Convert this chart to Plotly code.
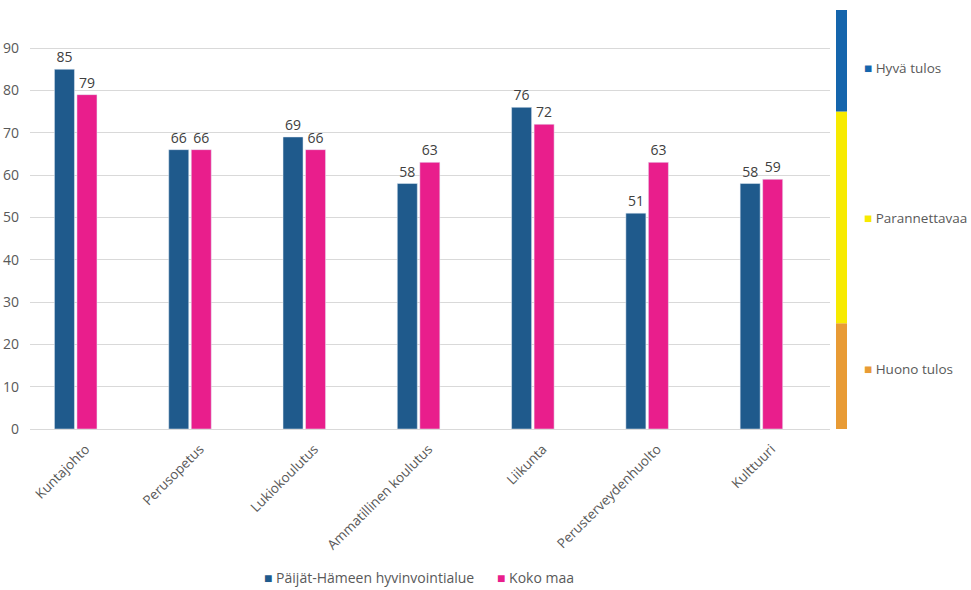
import plotly.graph_objects as go

categories = ["Kuntajohto", "Perusopetus", "Lukiokoulutus", "Ammatillinen koulutus",
              "Liikunta", "Perusterveydenhuolto", "Kulttuuri"]
paijat_hame = [85, 66, 69, 58, 76, 51, 58]
koko_maa = [79, 66, 66, 63, 72, 63, 59]
series_names = ["Päijät-Hämeen hyvinvointialue", "Koko maa"]
series_colors = ["#1F5A8C", "#E91E8C"]

band_labels = ["Huono tulos", "Parannettavaa", "Hyvä tulos"]
band_base = [0, 25, 75]
band_size = [25, 50, 25]
band_colors = ["#E89B35", "#F7EA00", "#1565AC"]

FONT = "Open Sans"
TXT = "#595959"

fig = go.Figure()
for name, vals, col in zip(series_names, [paijat_hame, koko_maa], series_colors):
    fig.add_trace(go.Bar(
        x=categories, y=vals, name=name, marker_color=col,
        text=vals, textposition="outside",
        textfont=dict(size=14, color="#404040", family=FONT), cliponaxis=False,
        showlegend=False, xaxis="x", yaxis="y"))

for lbl, b, s, c in zip(band_labels, band_base, band_size, band_colors):
    fig.add_trace(go.Bar(
        x=["band"], y=[s], base=[b], name=lbl, marker_color=c, marker_line_width=0,
        width=[1], offset=[-0.5], showlegend=False, hoverinfo="skip",
        xaxis="x2", yaxis="y2"))

# right-side labels
label_y = {"Hyvä tulos": 0.8616, "Parannettavaa": 0.5036, "Huono tulos": 0.1432}
for lbl, c in zip(band_labels, band_colors):
    fig.add_annotation(
        x=1.0146, y=label_y[lbl], xref="paper", yref="paper",
        xanchor="left", yanchor="middle", showarrow=False,
        text=f"<span style='color:{c}'>■</span> {lbl}",
        font=dict(size=13.5, color=TXT, family=FONT))

# bottom legend
for name, col, lx in zip(series_names, series_colors, [0.283, 0.567]):
    fig.add_annotation(
        x=lx, y=-0.3556, xref="paper", yref="paper",
        xanchor="left", yanchor="middle", showarrow=False,
        text=f"<span style='color:{col}'>■</span> {name}",
        font=dict(size=14, color=TXT, family=FONT))

fig.update_layout(
    width=971, height=590,
    margin=dict(l=30, r=121, t=10, b=161, autoexpand=False),
    paper_bgcolor="white", plot_bgcolor="white",
    barmode="group", bargap=0.606, bargroupgap=0.111,
    font=dict(family=FONT, size=14, color=TXT),
    xaxis=dict(domain=[0, 0.9756], range=[-0.4, 6.6], tickangle=-45,
               showgrid=False, showline=True, linecolor="#D9D9D9", linewidth=1,
               ticks="", automargin=False, ticklabelshift=10, ticklabelstandoff=6,
               tickfont=dict(size=13.5, color=TXT)),
    yaxis=dict(range=[0, 99], tickvals=[0, 10, 20, 30, 40, 50, 60, 70, 80, 90],
               showgrid=True, gridcolor="#D9D9D9", gridwidth=1, zeroline=False,
               ticks="", ticklabelstandoff=10, automargin=False,
               tickfont=dict(size=14, color=TXT)),
    xaxis2=dict(domain=[0.98293, 0.99634], anchor="y2", range=[-0.5, 0.5],
                visible=False),
    yaxis2=dict(range=[0, 99], anchor="x2", visible=False),
    showlegend=False,
)

fig.write_html("out.html", config={"displayModeBar": False},
               post_script="document.body.style.margin='0';")
